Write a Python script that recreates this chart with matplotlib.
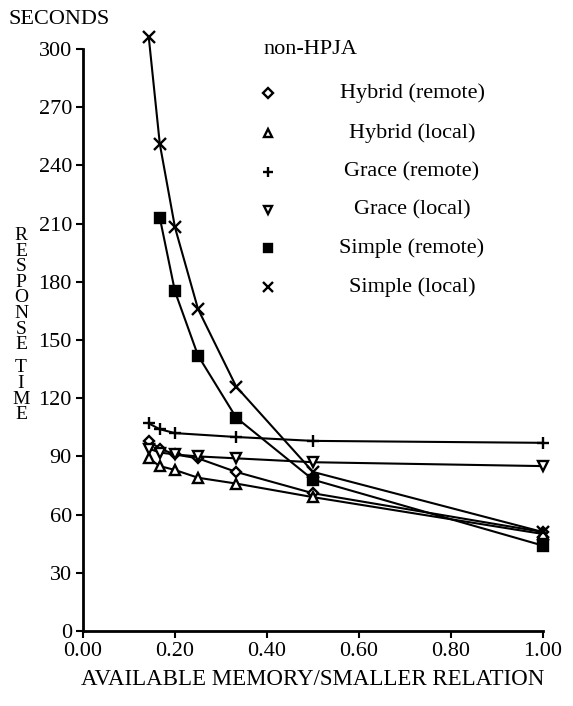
import matplotlib
matplotlib.use('Agg')
import matplotlib.pyplot as plt
from matplotlib.lines import Line2D

plt.rcParams['font.family'] = ['Liberation Serif', 'DejaVu Serif']

# memory ratios (available memory / smaller relation)
mem_all = [0.143, 0.167, 0.20, 0.25, 0.333, 0.50, 1.00]
mem_grace_remote = [0.143, 0.167, 0.20, 0.333, 0.50, 1.00]
mem_simple_remote = [0.167, 0.20, 0.25, 0.333, 0.50, 1.00]

# response time, seconds
hybrid_remote = [98, 94, 91, 89, 82, 71, 51]
hybrid_local = [89, 85, 83, 79, 76, 69, 50]
grace_remote = [107, 104, 102, 100, 98, 97]
grace_local = [94, 92, 91, 90, 89, 87, 85]
simple_remote = [213, 175, 142, 110, 78, 44]
simple_local = [306, 251, 208, 166, 126, 82, 51]

series = [
    ('Hybrid (remote)', mem_all, hybrid_remote, 'D', 'white', 5.5),
    ('Hybrid (local)', mem_all, hybrid_local, '^', 'white', 7),
    ('Grace (remote)', mem_grace_remote, grace_remote, '+', 'black', 9),
    ('Grace (local)', mem_all, grace_local, 'v', 'white', 7),
    ('Simple (remote)', mem_simple_remote, simple_remote, 's', 'black', 7),
    ('Simple (local)', mem_all, simple_local, 'x', 'black', 8),
]

W, H = 573, 706
fig = plt.figure(figsize=(W / 100, H / 100), dpi=100)
ax = fig.add_axes([83 / W, 1 - 631 / H, 460 / W, 582 / H])

for name, xs, ys, mk, fc, ms in series:
    ax.plot(xs, ys, color='black', lw=1.5, marker=mk, markersize=ms,
            markerfacecolor=fc, markeredgecolor='black', markeredgewidth=1.7,
            clip_on=False, zorder=3)

ax.set_xlim(0, 1.0)
ax.set_ylim(0, 300)
ax.set_xticks([0, 0.2, 0.4, 0.6, 0.8, 1.0])
ax.set_xticklabels(['%.2f' % v for v in [0, 0.2, 0.4, 0.6, 0.8, 1.0]])
ax.set_yticks(range(0, 301, 30))
ax.tick_params(direction='out', length=5, width=1.5, labelsize=16, pad=3)
for s in ['top', 'right']:
    ax.spines[s].set_visible(False)
for s in ['left', 'bottom']:
    ax.spines[s].set_linewidth(2)

ax.set_xlabel('AVAILABLE MEMORY/SMALLER RELATION', fontsize=16.5, labelpad=6)
fig.text(8 / W, 1 - 20 / H, 'SECONDS', fontsize=16, ha='left', va='center')

# stacked y label, letters packed tight like the original
y = 236
for ch in 'RESPONSE TIME':
    if ch == ' ':
        y += 8
        continue
    fig.text(21 / W, 1 - y / H, ch, fontsize=14, ha='center', va='center')
    y += 15.5

# legend block
fig.text(263 / W, 1 - 50 / H, 'non-HPJA', fontsize=16, ha='left', va='center')
row_y = [93, 133, 172, 210, 248, 287]
for (name, xs, ys, mk, fc, ms), ry in zip(series, row_y):
    fig.add_artist(Line2D([268 / W], [1 - ry / H], transform=fig.transFigure,
                          marker=mk, markersize=ms * 0.85, markerfacecolor=fc,
                          markeredgecolor='black', markeredgewidth=1.7, linestyle='none'))
    fig.text(412 / W, 1 - ry / H, name, fontsize=16, ha='center', va='center')

fig.savefig('out.png', dpi=100)
